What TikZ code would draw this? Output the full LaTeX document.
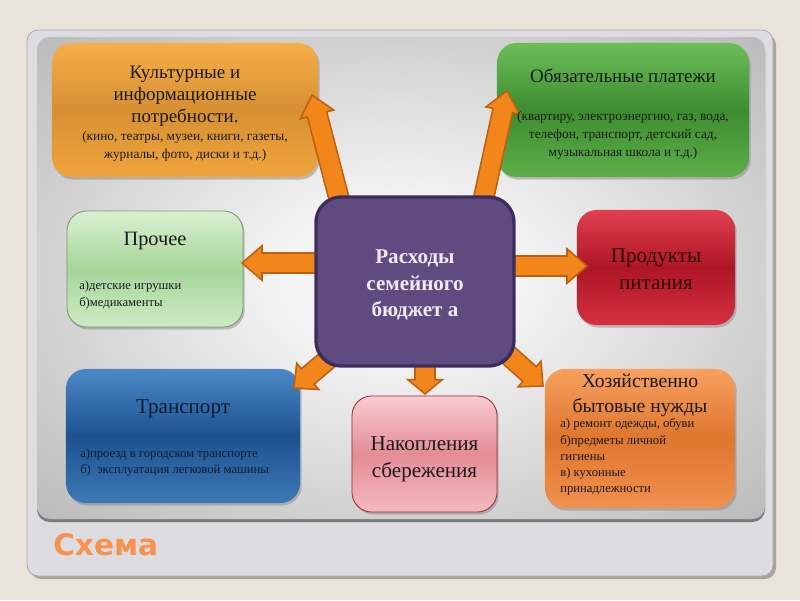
\documentclass[tikz,border=0pt]{standalone}
\usepackage{fontspec}
\setmainfont{Liberation Serif}
\newfontfamily\schemafont{DejaVu Sans}
\usetikzlibrary{calc,shadows}
\definecolor{bgbeige}{HTML}{E9E3DA}
\definecolor{panelc}{HTML}{DDDDE1}
\definecolor{panelb}{HTML}{ABABB0}
\definecolor{panelsh}{HTML}{A9A49B}
\definecolor{pctr}{HTML}{F4F4F4}
\definecolor{pedge}{HTML}{9C9C9C}
\definecolor{innersh}{HTML}{7C7C7C}
\definecolor{arrfill}{HTML}{F2861A}
\definecolor{arrdraw}{HTML}{BE600E}
\definecolor{txtdark}{HTML}{1A1A1A}
\definecolor{schemac}{HTML}{F7924F}
\definecolor{purfill}{HTML}{5F4B80}
\definecolor{purdraw}{HTML}{3D2D5C}
\definecolor{purtxt}{HTML}{F3EAF6}
\definecolor{orT}{HTML}{F6AE48}
\definecolor{orM}{HTML}{D69032}
\definecolor{orB}{HTML}{F0A53E}
\definecolor{grT}{HTML}{6CBE5A}
\definecolor{grM}{HTML}{3E8C30}
\definecolor{grB}{HTML}{5CAE4A}
\definecolor{lgT}{HTML}{DAF0D2}
\definecolor{lgM}{HTML}{A6D69A}
\definecolor{lgB}{HTML}{CDEBC4}
\definecolor{lgD}{HTML}{78966E}
\definecolor{rdT}{HTML}{E0404E}
\definecolor{rdM}{HTML}{AE1626}
\definecolor{rdB}{HTML}{D63040}
\definecolor{rdTx}{HTML}{2B0A0E}
\definecolor{blT}{HTML}{4C88C8}
\definecolor{blM}{HTML}{1C528E}
\definecolor{blB}{HTML}{3E78B8}
\definecolor{blTx}{HTML}{0E1C30}
\definecolor{o2T}{HTML}{F8A060}
\definecolor{o2M}{HTML}{DE762E}
\definecolor{o2B}{HTML}{F29050}
\definecolor{pkT}{HTML}{F8CCD0}
\definecolor{pkM}{HTML}{E48C96}
\definecolor{pkB}{HTML}{F4BABE}
\definecolor{pkD}{HTML}{A02838}
\pgfdeclareradialshading{panelshade}{\pgfpoint{0bp}{0bp}}{color(0bp)=(pctr); color(8bp)=(pctr); color(50bp)=(pedge); color(75bp)=(pedge)}
\newcommand{\arrhw}{0.25cm}
\newcommand{\arrhh}{0.43cm}
\newcommand{\blockarrow}[3][0.5cm]{%
  \coordinate (bh) at ($(#3)!#1!(#2)$);
  \filldraw[blockarr] ($(#2)!\arrhw!90:(#3)$) -- ($(bh)!\arrhw!90:(#3)$) -- ($(bh)!\arrhh!90:(#3)$) -- (#3)
    -- ($(bh)!\arrhh!-90:(#3)$) -- ($(bh)!\arrhw!-90:(#3)$) -- ($(#2)!\arrhw!-90:(#3)$) -- cycle;}
\tikzset{
  box/.style={rounded corners=14pt, inner sep=0pt,
    drop shadow={shadow xshift=1.2pt, shadow yshift=-1.8pt, opacity=0.45}},
  glass/.style n args={3}{top color=#1, bottom color=#3, middle color=#2},
  sz/.style 2 args={minimum width=#1, minimum height=#2},
  ttl/.style={align=center, inner sep=0pt, text=txtdark, font=\fontsize{13.5}{15.6}\selectfont},
  big/.style={align=center, inner sep=0pt, text=txtdark, font=\fontsize{15}{19}\selectfont},
  sub/.style={align=center, inner sep=0pt, text=txtdark, font=\fontsize{9.5}{12.8}\selectfont},
  lst/.style={align=left, anchor=west, inner sep=0pt, text=txtdark, font=\fontsize{9}{11.5}\selectfont},
  blockarr/.style={fill=arrfill, draw=arrdraw, line width=1.1pt, line join=miter},
}
\begin{document}
\begin{tikzpicture}[x=0.025cm, y=-0.025cm]
\useasboundingbox (0,0) rectangle (800,600);
\fill[bgbeige] (0,0) rectangle (800,600);
% outer panel
\fill[panelsh, rounded corners=8pt] (30,34) rectangle (776,579);
\filldraw[fill=panelc, draw=panelb, line width=0.6pt, rounded corners=8pt] (27,30) rectangle (773,576);
% inner area
\fill[innersh, rounded corners=9pt] (37,40) rectangle (765,522);
\shade[shading=panelshade, rounded corners=9pt] (37,37) rectangle (765,519);

% boxes
\node[box, sz={6.65cm}{3.35cm}, glass={orT}{orM}{orB}] (kult) at (185,110) {};
\node[box, sz={6.3cm}{3.35cm}, glass={grT}{grM}{grB}] (obyaz) at (623,110) {};
\node[box, sz={4.4cm}{2.9cm}, draw=lgD, line width=0.6pt, glass={lgT}{lgM}{lgB}] (proch) at (155,269) {};
\node[box, sz={3.95cm}{2.875cm}, glass={rdT}{rdM}{rdB}] (prod) at (656,267.5) {};
\node[box, sz={5.85cm}{3.35cm}, glass={blT}{blM}{blB}] (trans) at (183,436) {};
\node[box, sz={4.75cm}{3.475cm}, glass={o2T}{o2M}{o2B}] (hoz) at (640,438.5) {};
\node[box, sz={3.625cm}{2.9cm}, draw=pkD, line width=0.6pt, glass={pkT}{pkM}{pkB}] (nakop) at (424.5,454) {};

% arrows
\coordinate (s1) at (342,210); \coordinate (t1) at (312,95);
\coordinate (s2) at (481,210); \coordinate (t2) at (507,91);
\coordinate (s3) at (325,263); \coordinate (t3) at (242,263);
\coordinate (s4) at (505,266); \coordinate (t4) at (587,266);
\coordinate (s5) at (345,345); \coordinate (t5) at (294,388);
\coordinate (s6) at (425,355); \coordinate (t6) at (425,394);
\coordinate (s7) at (497,345); \coordinate (t7) at (543,386);
\blockarrow{s1}{t1}
\blockarrow{s2}{t2}
\blockarrow{s3}{t3}
\blockarrow{s4}{t4}
\blockarrow[0.45cm]{s5}{t5}
\blockarrow[0.36cm]{s6}{t6}
\blockarrow[0.45cm]{s7}{t7}

% centre
\node[fill=purfill, draw=purdraw, line width=2.4pt, rounded corners=18pt, sz={4.95cm}{4.225cm}] (cen) at (415,281.5) {};
\node[align=center, inner sep=0pt, text=purtxt, font=\bfseries\fontsize{15}{19}\selectfont] (cenT) at (415,285) {Расходы\\семейного\\бюджет а};

% texts
\node[ttl] (kultT) at (185,96) {Культурные и\\информационные\\потребности.};
\node[sub] (kultS) at (185,146) {(кино, театры, музеи, книги, газеты,\\журналы, фото, диски и т.д.)};
\node[ttl] (obT) at (623,76) {Обязательные платежи};
\node[sub] (obS) at (623,135.5) {(квартиру, электроэнергию, газ, вода,\\телефон, транспорт, детский сад,\\музыкальная школа и т.д.)};
\node[ttl, font=\fontsize{14.5}{17}\selectfont] (prT) at (155,241) {Прочее};
\node[lst] (prL) at (79,295) {а)детские игрушки\\б)медикаменты};
\node[big, text=rdTx] (pdT) at (656,269) {Продукты\\питания};
\node[big, text=blTx] (trT) at (183,409) {Транспорт};
\node[lst, text=blTx] (trL) at (80,462.5) {а)проезд в городском транспорте\\б)\ \ эксплуатация легковой машины};
\node[ttl, font=\fontsize{14}{17.7}\selectfont] (hzT) at (640,395) {Хозяйственно\\бытовые нужды};
\node[lst] (hzL) at (560,457) {а) ремонт одежды, обуви\\б)предметы личной\\гигиены\\в) кухонные\\принадлежности};
\node[big] (nkT) at (424.5,459) {Накопления\\сбережения};

\node[anchor=west, inner sep=0pt, text=schemac, font=\schemafont\bfseries\fontsize{21}{24}\selectfont] (schema) at (53,545) {Схема};
\end{tikzpicture}
\end{document}
